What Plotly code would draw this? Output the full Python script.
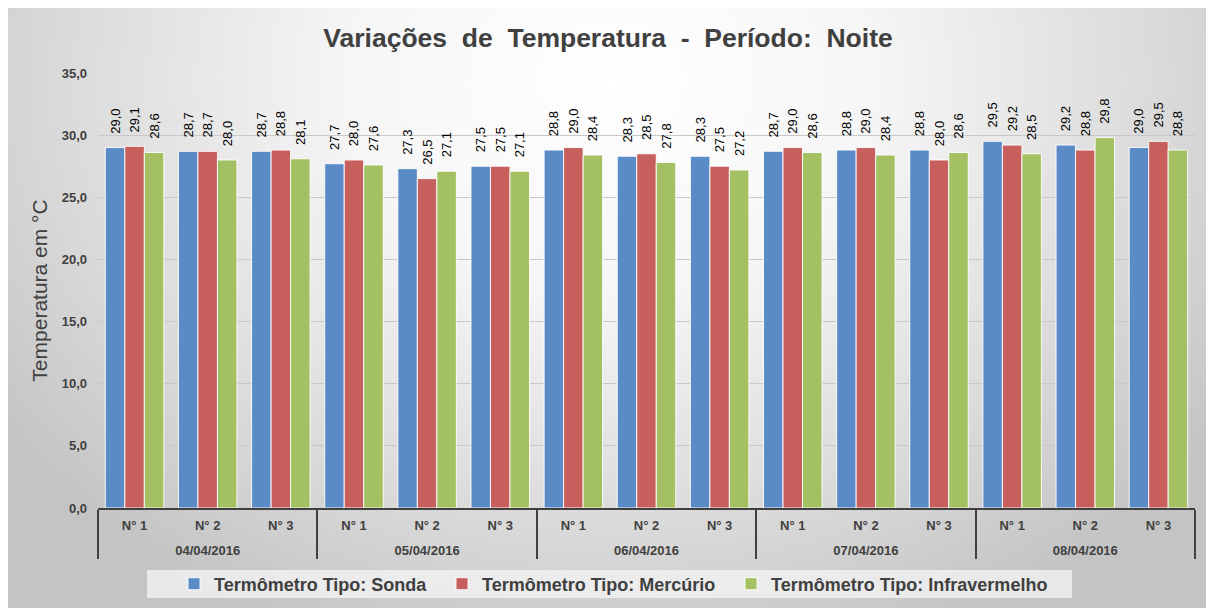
import base64
import plotly.graph_objects as go

# ---- data ----
dates = ["04/04/2016", "05/04/2016", "06/04/2016", "07/04/2016", "08/04/2016"]
sensors = ["N° 1", "N° 2", "N° 3"]
series_names = ["Termômetro Tipo: Sonda", "Termômetro Tipo: Mercúrio", "Termômetro Tipo: Infravermelho"]
sonda = [29.0, 28.7, 28.7, 27.7, 27.3, 27.5, 28.8, 28.3, 28.3, 28.7, 28.8, 28.8, 29.5, 29.2, 29.0]
mercurio = [29.1, 28.7, 28.8, 28.0, 26.5, 27.5, 29.0, 28.5, 27.5, 29.0, 29.0, 28.0, 29.2, 28.8, 29.5]
infravermelho = [28.6, 28.0, 28.1, 27.6, 27.1, 27.1, 28.4, 27.8, 27.2, 28.6, 28.4, 28.6, 28.5, 29.8, 28.8]
y_ticks = [0, 5, 10, 15, 20, 25, 30, 35]

colors = ["#5B8BC7", "#C75F5C", "#A3C063"]
FONT = "Liberation Sans, Arial, sans-serif"
TXT = "#404040"

x_outer = [d for d in dates for _ in sensors]
x_inner = [s for _ in dates for s in sensors]

W, H = 1214, 608
OFF = 8  # page body margin
L, T = 98 - OFF, 73 - OFF
R = W - (1195 - OFF)
B = H - (508 - OFF)
pw, ph = W - L - R, H - T - B


def px(xs):  # screen pixel -> paper x
    return (xs - OFF - L) / pw


def py(ys):  # screen pixel -> paper y
    return (H - B - (ys - OFF)) / ph


legend_ids = ["legend", "legend2", "legend3"]
fig = go.Figure()
for name, vals, col, lg in zip(series_names, [sonda, mercurio, infravermelho], colors, legend_ids):
    fig.add_trace(go.Bar(
        name=name,
        x=[x_outer, x_inner],
        y=vals,
        legend=lg,
        marker=dict(color=col, line=dict(color="rgba(255,255,255,0.9)", width=1)),
        texttemplate="&nbsp;&nbsp;&nbsp;%{y:.1f}",
        textposition="outside",
        textangle=-90,
        constraintext="none",
        textfont=dict(family=FONT, size=13, color="#000000"),
        cliponaxis=False,
    ))

# background gradient (svg)
svg = """<svg xmlns='http://www.w3.org/2000/svg' width='1208' height='603' viewBox='0 0 1208 603' preserveAspectRatio='none'>
<defs><radialGradient id='g' cx='0.5' cy='0.12' r='0.62' fx='0.5' fy='0.12' gradientTransform='translate(0.5,0.12) scale(1,1.6) translate(-0.5,-0.12)'>
<stop offset='0' stop-color='#ffffff'/><stop offset='0.35' stop-color='#f6f6f6'/><stop offset='0.75' stop-color='#d9d9d9'/><stop offset='1' stop-color='#c4c4c4'/>
</radialGradient></defs>
<rect x='0' y='0' width='1208' height='603' fill='url(#g)'/>
</svg>"""
src = "data:image/svg+xml;base64," + base64.b64encode(svg.encode("utf-8")).decode("ascii")

fig.add_layout_image(dict(
    source=src, xref="paper", yref="paper",
    x=px(OFF), y=py(OFF),
    sizex=(W - OFF) / pw, sizey=(H) / ph,
    xanchor="left", yanchor="top", sizing="stretch", layer="below",
))

# legend backing box
fig.add_shape(type="rect", xref="paper", yref="paper",
              x0=px(147), x1=px(1072), y0=py(598), y1=py(570),
              fillcolor="rgba(243,243,243,0.8)", line=dict(width=0), layer="below")

leg_common = dict(orientation="h", xanchor="left", yanchor="middle", y=py(584),
                  bgcolor="rgba(0,0,0,0)", borderwidth=0,
                  font=dict(family=FONT, size=18, color=TXT, weight="bold"),
                  itemwidth=30)
marker_x = [194, 462, 751]

spacer = "<span style='font-size:21px'>&nbsp;</span>"

fig.update_layout(
    width=W, height=H,
    margin=dict(l=L, r=R, t=T, b=B, autoexpand=False),
    paper_bgcolor="#ffffff",
    plot_bgcolor="rgba(0,0,0,0)",
    separators=",.",
    barmode="group",
    bargap=0.2,
    bargroupgap=0,
    title=dict(text="Variações  de  Temperatura  -  Período:  Noite",
               xref="container", x=(608 - OFF) / W, xanchor="center",
               y=(H - 30) / H, yanchor="middle",
               font=dict(family=FONT, size=26.5, color=TXT, weight="bold")),
    font=dict(family=FONT, color=TXT),
    showlegend=True,
    legend=dict(leg_common, x=px(marker_x[0] - 20)),
    legend2=dict(leg_common, x=px(marker_x[1] - 20)),
    legend3=dict(leg_common, x=px(marker_x[2] - 20)),
    xaxis=dict(
        type="multicategory", automargin=False,
        showline=True, linecolor="#404040", linewidth=2,
        showdividers=True, dividercolor="#404040", dividerwidth=2,
        tickfont=dict(family=FONT, size=13, color=TXT, weight="bold"),
        tickson="labels", ticks="outside", ticklen=4, tickcolor="rgba(0,0,0,0)",
        labelalias={s: spacer + s + spacer for s in sensors},
        showgrid=False,
    ),
    yaxis=dict(
        range=[0, 35], tickvals=y_ticks, tickformat=".1f", automargin=False,
        showgrid=True, gridcolor="#c8c8c8", gridwidth=1,
        zeroline=False,
        tickfont=dict(family=FONT, size=13, color=TXT, weight="bold"),
        ticks="", ticklabelstandoff=10,
        title=dict(text="Temperatura em °C", standoff=8,
                   font=dict(family=FONT, size=21, color=TXT)),
    ),
)

fig.write_html("out.html")
